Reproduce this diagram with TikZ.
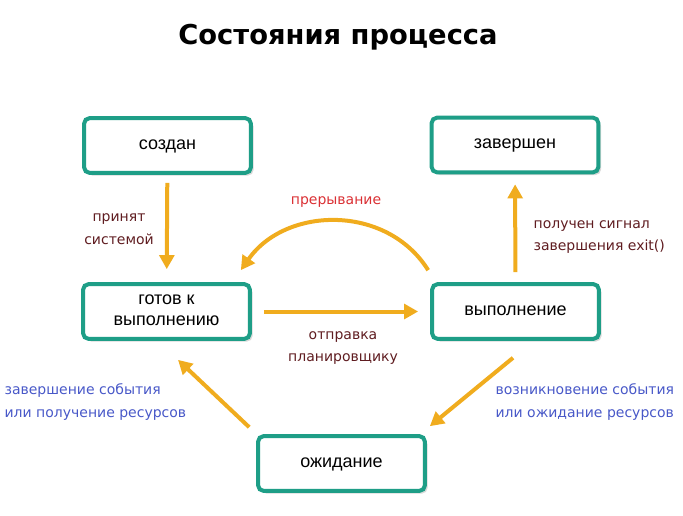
\documentclass[tikz,border=0pt]{standalone}
\usepackage{fontspec}
\setmainfont{Liberation Sans}
\newfontfamily\notefont{DejaVu Sans}
\usetikzlibrary{positioning,calc,arrows.meta,shadows}
\definecolor{boxteal}{RGB}{30,158,135}
\definecolor{arrorange}{RGB}{240,172,30}
\definecolor{notebrown}{RGB}{95,28,32}
\definecolor{notered}{RGB}{218,48,52}
\definecolor{noteblue}{RGB}{72,88,200}
\tikzset{font=\fontsize{13.5}{16}\selectfont}

\begin{document}
\begin{tikzpicture}[x=0.75pt,y=0.75pt]
	\useasboundingbox (0,0) rectangle (683,-515);
	\tikzstyle{state}=[draw=boxteal, line width=3pt, rounded corners=4pt, fill=white,
		minimum width=125pt, minimum height=41pt, align=center, text depth=0.3ex,
		drop shadow={shadow xshift=2pt, shadow yshift=-2pt, opacity=0.3}]
	\tikzstyle{arr}=[draw=arrorange, line width=3pt, -{Triangle[width=11pt,length=10.5pt]}]
	\tikzstyle{note}=[inner sep=1pt, font=\notefont\fontsize{10.5}{17}\selectfont]

	\node[font=\notefont\bfseries\fontsize{20.5}{23}\selectfont] (title) at (338,-37) {Состояния процесса};

	\node[state] (created) at (167.5,-145.5) {создан};
	\node[state] (done) at (515,-145) {завершен};
	\node[state] (ready) at (166.5,-311.5) {готов к\\выполнению};
	\node[state] (run) at (515.5,-311.5) {выполнение};
	\node[state] (waiting) at (341.5,-463.5) {ожидание};

	\draw[arr, shorten <=6pt, shorten >=9.75pt] (created) -- (ready);
	\draw[arr, shorten <=9pt, shorten >=9pt] (ready) -- (run);
	\draw[arr, shorten <=7.5pt, shorten >=7.5pt] (run) -- (done);
	\draw[arr] ([shift={(-2,12)}]run.north west) to[out=122, in=55, looseness=1.07] ([shift={(-11,12)}]ready.north east);
	\draw[arr] ([shift={(-2.5,-17)}]run.south) -- ([shift={(3,8)}]waiting.north east);
	\draw[arr] ([shift={(-7,7)}]waiting.north west) -- ([shift={(11.5,-19)}]ready.south);

	\node[note, text=notebrown, align=center] (accepted) at (119,-229) {принят\\системой};
	\node[note, text=notered] (interrupt) at (336,-202) {прерывание};
	\node[note, text=notebrown, align=center] (dispatch) at (343,-348) {отправка\\планировщику};
	\node[note, text=notebrown, align=left, anchor=west] (signal) at (532,-237) {получен сигнал\\завершения exit()};
	\node[note, text=noteblue, align=left, anchor=west] (eventend) at (3,-402) {завершение события\\или получение ресурсов};
	\node[note, text=noteblue, align=left, anchor=west] (eventwait) at (494,-402) {возникновение события\\или ожидание ресурсов};
\end{tikzpicture}
\end{document}
